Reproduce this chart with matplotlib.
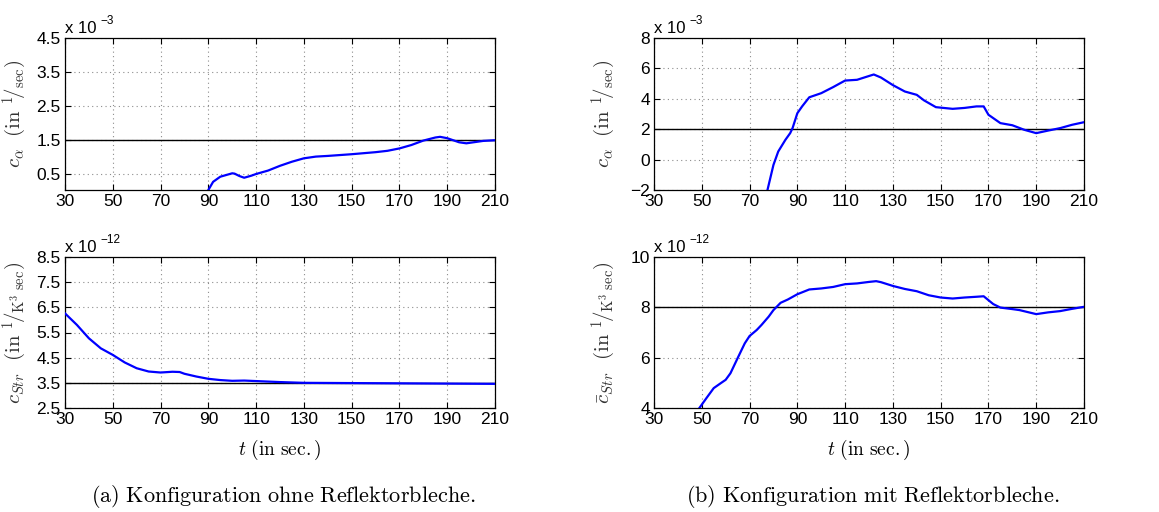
import numpy as np
import matplotlib
matplotlib.use("Agg")
import matplotlib.pyplot as plt

plt.rcParams["font.family"] = ["Liberation Sans", "DejaVu Sans"]
plt.rcParams["mathtext.fontset"] = "cm"

# ── data (y in units of the axis multiplier) ─────────────────────────────────
t_ca_a = [90, 92, 95, 100, 101, 103, 105, 108, 110, 115, 120, 125, 130, 135,
          140, 150, 160, 165, 170, 175, 180, 185, 187, 190, 195, 198, 200, 205, 210]
ca_a = [0.04, 0.28, 0.43, 0.53, 0.52, 0.45, 0.40, 0.46, 0.51, 0.61, 0.75, 0.87,
        0.97, 1.02, 1.04, 1.09, 1.15, 1.19, 1.26, 1.36, 1.49, 1.58, 1.60, 1.56,
        1.44, 1.41, 1.43, 1.48, 1.50]

t_ca_b = [77.5, 80, 82, 85, 87, 88, 90, 92, 95, 100, 105, 108, 110, 115, 120,
          122, 125, 130, 135, 140, 143, 148, 155, 160, 165, 168, 170, 175, 180,
          185, 190, 195, 200, 205, 210]
ca_b = [-2.0, -0.35, 0.53, 1.3, 1.74, 2.07, 3.05, 3.5, 4.1, 4.37, 4.77, 5.03,
        5.2, 5.25, 5.5, 5.6, 5.4, 4.9, 4.48, 4.26, 3.9, 3.45, 3.34, 3.4, 3.5,
        3.5, 2.95, 2.4, 2.26, 1.96, 1.74, 1.91, 2.07, 2.29, 2.46]

t_cs_a = [30, 35, 40, 45, 50, 55, 60, 65, 70, 75, 78, 80, 85, 90, 95, 100, 105,
          110, 120, 130, 150, 170, 210]
cs_a = [6.26, 5.8, 5.27, 4.87, 4.61, 4.31, 4.08, 3.95, 3.91, 3.94, 3.93, 3.86,
        3.75, 3.66, 3.61, 3.58, 3.59, 3.57, 3.53, 3.50, 3.49, 3.48, 3.46]

t_cs_b = [49, 52, 55, 58, 60, 62, 65, 68, 70, 73, 75, 78, 80, 83, 86, 90, 95,
          100, 105, 110, 115, 120, 123, 125, 130, 135, 140, 145, 150, 155, 160,
          165, 168, 172, 175, 180, 183, 190, 195, 200, 205, 210]
cs_b = [4.0, 4.4, 4.79, 4.99, 5.12, 5.38, 5.98, 6.57, 6.86, 7.1, 7.3, 7.63,
        7.89, 8.18, 8.31, 8.52, 8.71, 8.75, 8.81, 8.92, 8.95, 9.01, 9.04, 9.0,
        8.85, 8.73, 8.64, 8.48, 8.39, 8.35, 8.39, 8.42, 8.44, 8.13, 7.99, 7.93,
        7.89, 7.73, 7.8, 7.85, 7.94, 8.02]

ref_ca_a, ref_ca_b = 1.5, 2.0
ref_cs_a, ref_cs_b = 3.5, 8.0

x_ticks = list(range(30, 211, 20))

W, H = 1159, 512
fig = plt.figure(figsize=(W / 100, H / 100), dpi=100)


def make_ax(left, top, bottom):
    return fig.add_axes([left / W, 1 - bottom / H, 430 / W, (bottom - top) / H])


panels = [
    (make_ax(65, 38, 190), t_ca_a, ca_a, ref_ca_a, (0.04, 4.5), [0.5, 1.5, 2.5, 3.5, 4.5],
     "-3", r"$c_\alpha\ \ (\mathrm{in}\ {}^{1}\!/_{\mathrm{sec}})$", False),
    (make_ax(654, 38, 190), t_ca_b, ca_b, ref_ca_b, (-2, 8), [-2, 0, 2, 4, 6, 8],
     "-3", r"$c_\alpha\ \ (\mathrm{in}\ {}^{1}\!/_{\mathrm{sec}})$", False),
    (make_ax(65, 257, 408), t_cs_a, cs_a, ref_cs_a, (2.5, 8.5), [2.5, 3.5, 4.5, 5.5, 6.5, 7.5, 8.5],
     "-12", r"$c_{Str}\ \ (\mathrm{in}\ {}^{1}\!/_{\mathrm{K}^3\ \mathrm{sec}})$", True),
    (make_ax(654, 257, 408), t_cs_b, cs_b, ref_cs_b, (4, 10), [4, 6, 8, 10],
     "-12", r"$\bar{c}_{Str}\ \ (\mathrm{in}\ {}^{1}\!/_{\mathrm{K}^3\ \mathrm{sec}})$", True),
]

for ax, tx, yv, ref, ylim, yt, expo, ylab, bottom_row in panels:
    ax.plot(tx, yv, color="#0000ff", lw=1.6, zorder=3)
    ax.axhline(ref, color="black", lw=1.0, zorder=2)
    ax.set_xlim(30, 210)
    ax.set_ylim(*ylim)
    ax.set_xticks(x_ticks)
    ax.set_yticks(yt)
    ax.set_yticklabels([("%g" % v).replace("-", "\u2212") for v in yt])
    ax.grid(True, color="0.55", linestyle=(0, (1, 3)), lw=0.8)
    ax.tick_params(direction="in", top=True, right=True, length=4,
                   labelsize=12.5, pad=3, width=0.8)
    for s in ax.spines.values():
        s.set_linewidth(0.9)
    ax.set_ylabel(ylab, fontsize=15, color="#333333")
    ax.yaxis.set_label_coords(-0.083, 0.5)
    ax.text(0.0, 1.012, "x 10", transform=ax.transAxes, fontsize=12,
            ha="left", va="bottom")
    ax.text(0.083, 1.07, "\u2212" + expo[1:], transform=ax.transAxes, fontsize=8.5,
            ha="left", va="bottom")
    if bottom_row:
        ax.set_xlabel(r"$t\ (\mathrm{in\ sec.})$", fontsize=14)
        ax.xaxis.set_label_coords(0.5, -0.2)

fig.text(283 / W, 1 - 497 / H, r"$\mathrm{(a)\ Konfiguration\ ohne\ Reflektorbleche.}$",
         ha="center", va="center", fontsize=16)
fig.text(873 / W, 1 - 497 / H, r"$\mathrm{(b)\ Konfiguration\ mit\ Reflektorbleche.}$",
         ha="center", va="center", fontsize=16)

fig.savefig("out.png", dpi=100)
